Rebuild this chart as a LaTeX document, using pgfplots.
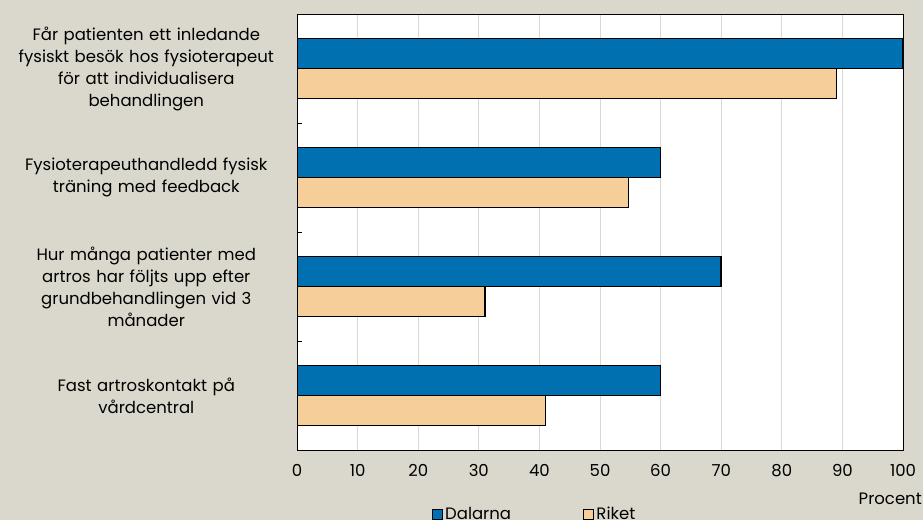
\documentclass[border=0pt]{standalone}
\usepackage{pgfplots}
\pgfplotsset{compat=1.18}
\usepackage{fontspec}
\setmainfont{Poppins}
\definecolor{bgcol}{HTML}{DAD8CC}
\definecolor{dblue}{HTML}{0070B0}
\definecolor{peach}{HTML}{F5CE9A}
\definecolor{gridc}{HTML}{DBD8CF}
\pgfplotstableread{
y val
0 100
1 60
2 70
3 60
}\dalarna
\pgfplotstableread{
y val
0 89
1 54.7
2 31
3 41
}\riket
\begin{document}
\begin{tikzpicture}
\useasboundingbox (0,0) rectangle (923bp,520bp);
\clip (0,0) rectangle (923bp,520bp);
\fill[bgcol] (0,0) rectangle (923bp,520bp);
\begin{axis}[
  at={(297bp,70bp)}, anchor=south west,
  scale only axis, width=606bp, height=436bp,
  font=\fontsize{16.5bp}{22bp}\selectfont,
  axis background/.style={fill=white},
  xbar, bar width=0.275,
  y dir=reverse,
  xmin=0, xmax=100, ymin=-0.5, ymax=3.5,
  xtick={0,10,...,100},
  /pgf/number format/assume math mode=true,
  xmajorgrids, grid style={gridc, line width=1pt},
  major x tick style={draw=none},
  xticklabel style={yshift=-11bp},
  ytick={0,1,2,3},
  yticklabels={{Får patienten ett inledande\\fysiskt besök hos fysioterapeut\\för att individualisera\\behandlingen},
               {Fysioterapeuthandledd fysisk\\träning med feedback},
               {Hur många patienter med\\artros har följts upp efter\\grundbehandlingen vid 3\\månader},
               {Fast artroskontakt på\\vårdcentral}},
  yticklabel style={text width=285bp, align=center, inner sep=0pt, xshift=-8bp},
  major y tick style={draw=none},
  minor ytick={-0.5,0.5,1.5,2.5,3.5},
  minor y tick style={black, line width=0.8pt},
  minor tick length=5bp,
  ytick pos=left, tick align=inside,
  axis line style={black, line width=0.8pt},
  xlabel={Procent},
  xlabel style={at={(rel axis cs:1,0)}, anchor=north east, inner sep=0pt, yshift=-43bp, xshift=19bp},
  legend style={at={(rel axis cs:0.392,-0.122)}, anchor=north, draw=none, fill=none,
    legend columns=2, font=\fontsize{16.5bp}{18bp}\selectfont,
    /tikz/every even column/.style={column sep=70bp}},
  legend image code/.code={\draw[#1, line width=1.4pt] (0bp,-5bp) rectangle (10bp,5bp);},
]
\addplot[fill=dblue, draw=black, line width=1.6pt, bar shift=-0.1375] table[x=val,y=y]{\dalarna};
\addplot[fill=peach, draw=black, line width=1.6pt, bar shift=0.1375] table[x=val,y=y]{\riket};
\legend{Dalarna,Riket}
\end{axis}
\end{tikzpicture}
\end{document}
